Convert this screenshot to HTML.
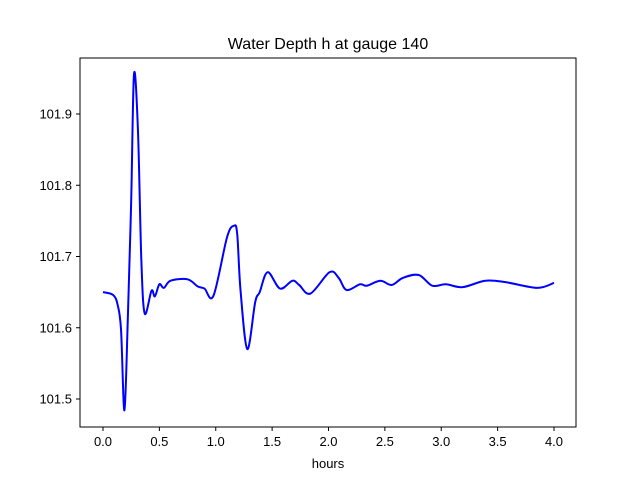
<!DOCTYPE html>
<html><head><meta charset="utf-8"><style>
body{margin:0;background:#fff}
svg{display:block;font-family:"Liberation Sans","DejaVu Sans",sans-serif}
</style></head><body>
<svg id="chart" width="640" height="480">
<rect x="0" y="0" width="640" height="480" fill="#fff"/>
<text x="328" y="49" font-size="16" text-anchor="middle">Water Depth h at gauge 140</text>
<g id="plot"></g>
<rect x="80" y="58" width="496" height="369" fill="none" stroke="#000" stroke-width="1"/>
<g id="xt"></g>
<g id="yt"></g>
<text x="328" y="468" font-size="13" text-anchor="middle">hours</text>
</svg>
<script>
const times=[0,0.09,0.13,0.16,0.19,0.22,0.25,0.275,0.31,0.34,0.37,0.43,0.46,0.5,0.54,0.6,0.75,0.84,0.9,0.98,1.1,1.16,1.19,1.22,1.28,1.35,1.39,1.46,1.57,1.68,1.74,1.84,2.01,2.09,2.16,2.28,2.34,2.46,2.56,2.66,2.8,2.92,3.04,3.19,3.39,3.57,3.85,4.0];
const depth=[101.650,101.646,101.632,101.597,101.484,101.612,101.778,101.956,101.877,101.695,101.620,101.652,101.644,101.661,101.656,101.666,101.668,101.658,101.655,101.645,101.727,101.743,101.732,101.652,101.570,101.636,101.650,101.678,101.655,101.666,101.660,101.648,101.678,101.670,101.653,101.661,101.659,101.666,101.660,101.670,101.674,101.659,101.661,101.657,101.666,101.664,101.656,101.663];
const xTicks=[0,0.5,1,1.5,2,2.5,3,3.5,4];
const xLabels=["0.0","0.5","1.0","1.5","2.0","2.5","3.0","3.5","4.0"];
const yTicks=[101.5,101.6,101.7,101.8,101.9];
const yLabels=["101.5","101.6","101.7","101.8","101.9"];
const X=t=>103+t*112.75;
const Y=v=>114+(101.9-v)*712.5;
const NS="http://www.w3.org/2000/svg";
const xt=document.getElementById('xt'),yt=document.getElementById('yt'),plot=document.getElementById('plot');
xTicks.forEach((t,i)=>{
  const l=document.createElementNS(NS,'line');
  
  
  l.setAttribute('x1',X(t));l.setAttribute('x2',X(t));l.setAttribute('y1',427);l.setAttribute('y2',431);l.setAttribute('stroke','#000');
  xt.appendChild(l);
  const tx=document.createElementNS(NS,'text');
  
  
  tx.setAttribute('x',X(t));tx.setAttribute('y',446);tx.setAttribute('font-size','13');tx.setAttribute('text-anchor','middle');
  tx.textContent=xLabels[i];xt.appendChild(tx);
});
yTicks.forEach((v,i)=>{
  const l=document.createElementNS(NS,'line');
  
  
  l.setAttribute('x1',76);l.setAttribute('x2',80);l.setAttribute('y1',Y(v));l.setAttribute('y2',Y(v));l.setAttribute('stroke','#000');
  yt.appendChild(l);
  const tx=document.createElementNS(NS,'text');
  
  
  tx.setAttribute('x',72);tx.setAttribute('y',Y(v)+4.5);tx.setAttribute('font-size','13');tx.setAttribute('text-anchor','end');
  tx.textContent=yLabels[i];yt.appendChild(tx);
});
const P=times.map((t,i)=>[X(t),Y(depth[i])]);
let d='M'+P[0][0]+','+P[0][1];
for(let i=0;i<P.length-1;i++){
  const p0=P[Math.max(0,i-1)],p1=P[i],p2=P[i+1],p3=P[Math.min(P.length-1,i+2)];
  const c1=[p1[0]+(p2[0]-p0[0])/6,p1[1]+(p2[1]-p0[1])/6];
  const c2=[p2[0]-(p3[0]-p1[0])/6,p2[1]-(p3[1]-p1[1])/6];
  d+=' C'+c1[0]+','+c1[1]+' '+c2[0]+','+c2[1]+' '+p2[0]+','+p2[1];
}
const path=document.createElementNS(NS,'path');


path.setAttribute('d',d);path.setAttribute('fill','none');path.setAttribute('stroke','#0000ff');path.setAttribute('stroke-width','2');
plot.appendChild(path);
</script>
</body></html>
